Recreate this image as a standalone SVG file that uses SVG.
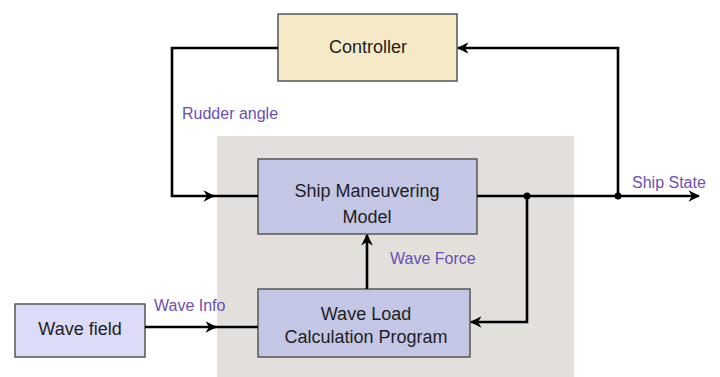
<svg xmlns="http://www.w3.org/2000/svg" width="720" height="377" viewBox="0 0 720 377">
<defs>
<marker id="ah" viewBox="0 0 10 10" refX="9" refY="5" markerWidth="4.5" markerHeight="4.5" markerUnits="strokeWidth" orient="auto">
<path d="M0,0 L10,5 L0,10 L3,5 z" fill="#000"/>
</marker>
<style>
.box{stroke:#555;stroke-width:1.5}
.t{font-family:"Liberation Sans",Arial,sans-serif;fill:#1e1e1e;text-anchor:middle}
.lbl{font-family:"Liberation Sans",Arial,sans-serif;fill:#6a4fb5;font-size:16px}
.ln{fill:none;stroke:#000;stroke-width:2.6}
</style>
</defs>
<rect width="720" height="377" fill="#fff"/>
<rect id="bg" x="217" y="136" width="357" height="241" fill="#e3e0dc"/>
<g id="controller">
<rect class="box" x="278" y="14" width="179" height="67" fill="#f5e9c8"/>
<text class="t" x="368" y="53" font-size="18">Controller</text>
</g>
<g id="ship">
<rect class="box" x="258" y="159" width="219" height="75" fill="#c4c6e6"/>
<text class="t" x="367" y="197" font-size="18">Ship Maneuvering</text>
<text class="t" x="367" y="223" font-size="18">Model</text>
</g>
<g id="waveload">
<rect class="box" x="258" y="289" width="212" height="68" fill="#c4c6e6"/>
<text class="t" x="366" y="320" font-size="18">Wave Load</text>
<text class="t" x="366" y="343" font-size="18">Calculation Program</text>
</g>
<g id="wavefield">
<rect class="box" x="15" y="304" width="130" height="53" fill="#dcdcf8"/>
<text class="t" x="80" y="335" font-size="18">Wave field</text>
</g>
<g id="connectors">
<path class="ln" d="M278,48 H172 V196 H214" marker-end="url(#ah)"/>
<path class="ln" d="M212,196 H258"/>
<path class="ln" d="M145,327 H216" marker-end="url(#ah)"/>
<path class="ln" d="M214,327 H258"/>
<path class="ln" d="M367,289 V235" marker-end="url(#ah)"/>
<path class="ln" d="M527,196 V322 H471" marker-end="url(#ah)"/>
<path class="ln" d="M618,196 V48 H458" marker-end="url(#ah)"/>
<path class="ln" d="M477,196 H699" marker-end="url(#ah)"/>
<circle cx="527" cy="196" r="3.5" fill="#000"/>
<circle cx="618" cy="196" r="3.5" fill="#000"/>
</g>
<g id="labels">
<text class="lbl" x="182" y="119">Rudder angle</text>
<text class="lbl" x="632" y="188">Ship State</text>
<text class="lbl" x="390" y="264">Wave Force</text>
<text class="lbl" x="154" y="311">Wave Info</text>
</g>
</svg>
